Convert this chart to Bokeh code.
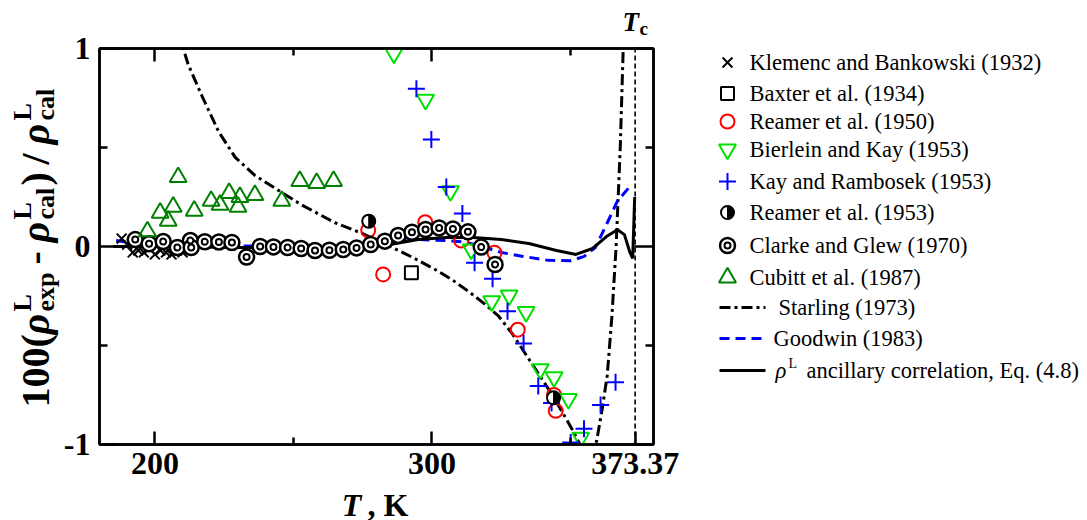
import numpy as np
from bokeh.plotting import figure
from bokeh.models import Range1d, FixedTicker, LinearAxis
from bokeh.layouts import row, column
from bokeh.embed import file_html
from bokeh.resources import INLINE
from bokeh.core.properties import value

# ---------------- data (T in K, 100*(rho_exp - rho_cal)/rho_cal) ----------------
klemenc_T = [188, 190, 192, 194, 196, 198, 200, 202, 204, 206, 208, 210]
klemenc_d = [0.04, 0.01, -0.03, -0.02, -0.03, -0.01, -0.04, -0.02, -0.03, -0.04, -0.02, -0.03]

baxter_T = [292.6]
baxter_d = [-0.133]

reamer50_T = [277.0, 282.4, 297.6, 310.6, 322.6, 331.0, 344.1, 344.7]
reamer50_d = [0.082, -0.141, 0.123, 0.030, -0.032, -0.42, -0.75, -0.83]

bierlein_T = [286.3, 297.7, 306.7, 314.2, 321.6, 327.9, 334.0, 339.1, 344.1, 349.3, 353.7]
bierlein_d = [0.975, 0.742, 0.28, -0.015, -0.276, -0.247, -0.33, -0.62, -0.66, -0.77, -0.966]

kay_T = [294.4, 299.8, 305.2, 311.0, 315.4, 321.9, 327.3, 333.1, 338.4, 343.2, 350.1, 354.9, 360.9, 366.3]
kay_d = [0.797, 0.54, 0.30, 0.167, -0.082, -0.163, -0.327, -0.49, -0.705, -0.79, -0.99, -0.92, -0.80, -0.685]

reamer53_T = [277.2, 343.9]
reamer53_d = [0.128, -0.764]

clarke_T = [192.9, 197.9, 203.0, 208.1, 212.8, 213.1, 218.0, 223.1, 227.8, 233.1, 238.0, 242.8,
            247.9, 252.8, 257.8, 263.0, 268.0, 272.8, 277.9, 283.0, 287.8, 292.8, 297.7, 302.6,
            307.6, 313.0, 317.8, 322.8]
clarke_d = [0.035, 0.014, 0.025, -0.005, 0.03, -0.005, 0.024, 0.023, 0.02, -0.053, 0.0, -0.002,
            -0.005, -0.010, -0.020, -0.019, -0.015, -0.007, 0.010, 0.027, 0.056, 0.072, 0.086, 0.094,
            0.089, 0.074, -0.003, -0.091]

cubitt_T = [197.3, 201.9, 204.8, 206.6, 208.4, 214.2, 220.3, 223.5, 226.8, 230.0, 230.7, 236.1,
            245.8, 252.3, 258.4, 264.5]
cubitt_d = [0.076, 0.17, 0.13, 0.20, 0.35, 0.18, 0.23, 0.21, 0.27, 0.20, 0.25, 0.26,
            0.23, 0.33, 0.32, 0.33]

starling_T = [208.5, 212, 217, 223, 229, 236, 245, 253, 265, 275, 285, 293, 301, 307, 314, 319,
              324, 329, 336, 343.5, 350.5, 353.5, 356, 358, 359.5, 361.5, 363.3, 365, 366.5, 368, 369.5]
starling_d = [1.08, 0.92, 0.76, 0.58, 0.45, 0.36, 0.28, 0.21, 0.12, 0.065, 0.0, -0.055, -0.115,
              -0.165, -0.235, -0.29, -0.35, -0.44, -0.59, -0.75, -0.92, -1.0, -1.06, -1.05, -0.98,
              -0.82, -0.65, -0.35, 0.0, 0.5, 1.2]

goodwin_T = [186, 200, 220, 250, 270, 285, 295, 305, 312, 318, 325, 333, 342, 350, 355, 359, 363, 367, 371.3]
goodwin_d = [0.03, 0.0, 0.0, 0.005, 0.01, 0.02, 0.035, 0.03, 0.022, 0.0, -0.03, -0.05, -0.07,
             -0.072, -0.05, -0.005, 0.11, 0.23, 0.3]

ancillary_T = [185, 200, 230, 260, 275, 285, 295, 305, 315, 325, 335, 345, 352, 358, 363, 367,
               369.5, 371.5, 372.5, 373.2]
ancillary_d = [0.0, 0.0, -0.005, -0.01, -0.005, 0.01, 0.035, 0.045, 0.045, 0.035, 0.015, -0.02,
               -0.04, -0.01, 0.05, 0.085, 0.06, -0.03, -0.06, 0.25]

Tc = 373.37
x_major = [200, 300, Tc]
x_labels = {200: "200", 300: "300", Tc: "373.37"}
x_minor = [250, 350]
y_major = [-1, 0, 1]
y_labels = {-1: "-1", 0: "0", 1: "1"}
y_minor = [-0.5, 0.5]

legend_labels = ["Klemenc and Bankowski (1932)", "Baxter et al. (1934)", "Reamer et al. (1950)",
                 "Bierlein and Kay (1953)", "Kay and Rambosek (1953)", "Reamer et al. (1953)",
                 "Clarke and Glew (1970)", "Cubitt et al. (1987)", "Starling (1973)",
                 "Goodwin (1983)", "ancillary correlation, Eq. (4.8)"]

SERIF = "Liberation Serif"
LIME = "#00e000"
DKGREEN = "#008000"
BLUE = "#0000ff"

# ---------------- page geometry ----------------
PW, PH = 1087, 520
LEFT_W = 60           # strip holding the y title
MID_W = 620           # main plot column
TOP_H = 35            # strip holding the T_c mark
MAIN_H = 455          # main figure height
BOT_H = PH - TOP_H - MAIN_H   # strip holding the x title
FL, FR, FT, FB = 97, 653, 48, 444   # frame edges in page pixels
XMIN, XMAX, YMIN, YMAX = 180, 380, -1, 1


def strip(x0, x1, oy, w, h):
    """A bare figure whose data coordinates are page pixels (x) and -page pixels (y).
    x0..x1 is the page span of its frame (frames in a column are aligned)."""
    f = figure(width=w, height=h, x_range=Range1d(x0, x1), y_range=Range1d(-(oy + h), -oy),
               output_backend="svg", toolbar_location=None, min_border=0,
               x_axis_location=None, y_axis_location=None)
    f.grid.visible = False
    f.outline_line_color = None
    f.background_fill_color = "white"
    f.border_fill_color = "white"
    return f


# ---------------- main figure ----------------
p = figure(width=MID_W, height=MAIN_H, x_range=Range1d(XMIN, XMAX), y_range=Range1d(YMIN, YMAX),
           output_backend="svg", toolbar_location=None,
           min_border_left=FL - LEFT_W, min_border_right=LEFT_W + MID_W - FR,
           min_border_top=FT - TOP_H, min_border_bottom=TOP_H + MAIN_H - FB)
p.grid.visible = False
p.background_fill_color = "white"
p.border_fill_color = "white"
p.outline_line_color = "black"
p.outline_line_width = 2.5


def style_axis(ax, major, minor, tin, mtin, labels=None):
    ax.ticker = FixedTicker(ticks=major, minor_ticks=minor)
    ax.axis_line_color = "black"
    ax.axis_line_width = 2.5
    ax.major_tick_in = tin
    ax.major_tick_out = 0
    ax.minor_tick_in = mtin
    ax.minor_tick_out = 0
    ax.major_tick_line_width = 2.5
    ax.minor_tick_line_width = 2.5
    ax.major_tick_line_color = "black"
    ax.minor_tick_line_color = "black"
    ax.major_label_text_font = SERIF
    ax.major_label_text_font_style = "bold"
    ax.major_label_text_color = "black"
    if labels is None:
        ax.major_label_text_font_size = "0px"
        ax.major_label_standoff = 0
        ax.major_label_overrides = {t: "" for t in major}
    else:
        ax.major_label_text_font_size = "32px"
        ax.major_label_overrides = labels


style_axis(p.xaxis[0], x_major, x_minor, 13, 7, labels=x_labels)
p.xaxis[0].major_label_standoff = 8
style_axis(p.yaxis[0], y_major, y_minor, 19, 8, labels=y_labels)
p.yaxis[0].major_label_standoff = 9
ax_top = LinearAxis()
style_axis(ax_top, [200, 300], x_minor, 13, 7)
p.add_layout(ax_top, "above")
ax_right = LinearAxis()
style_axis(ax_right, y_major, y_minor, 19, 8)
p.add_layout(ax_right, "right")

# curves
p.line(starling_T, starling_d, line_color="black", line_width=3, line_dash="11 4 3 4")
p.line(goodwin_T, goodwin_d, line_color=BLUE, line_width=3, line_dash="10 6")
p.line(ancillary_T, ancillary_d, line_color="black", line_width=3)
p.line([Tc, Tc], [YMIN, YMAX], line_color="black", line_width=1.6, line_dash="5 3")

# experimental points
p.scatter(klemenc_T, klemenc_d, marker="x", size=14, line_color="black", line_width=2)
p.scatter(baxter_T, baxter_d, marker="square", size=13, line_color="black", line_width=2, fill_color=None)
p.scatter(reamer50_T, reamer50_d, marker="circle", size=14, line_color="red", line_width=2, fill_color=None)
p.scatter(bierlein_T, bierlein_d, marker="inverted_triangle", size=17, line_color=LIME, line_width=2, fill_color=None)
p.scatter(kay_T, kay_d, marker="cross", size=17, line_color=BLUE, line_width=2)
p.scatter(reamer53_T, reamer53_d, marker="circle", size=13, line_color="black", line_width=2, fill_color="white")
p.wedge(reamer53_T, reamer53_d, radius=6.5, radius_units="screen", start_angle=-np.pi / 2,
        end_angle=np.pi / 2, fill_color="black", line_color="black")
p.scatter(clarke_T, clarke_d, marker="circle", size=15, line_color="black", line_width=2.5, fill_color="white")
p.scatter(clarke_T, clarke_d, marker="circle", size=6, line_color="black", line_width=2, fill_color="white")
p.scatter(cubitt_T, cubitt_d, marker="triangle", size=17, line_color=DKGREEN, line_width=2, fill_color=None)


def put(f, x, y, text, size, style="bold", angle=0.0, align="left"):
    f.text([x], [-y], text=[text], text_font=value(SERIF), text_font_style=style,
           text_font_size=f"{size}px", text_align=align, text_baseline="middle",
           text_color="black", angle=angle)


# ---------------- top strip: T_c ----------------
c_top = strip(FL, FR, 0, MID_W, TOP_H)
put(c_top, 622, 21, "T", 27, style="bold italic")
put(c_top, 639, 27.5, "c", 19)

# ---------------- bottom strip: x title ----------------
c_bot = strip(FL, FR, TOP_H + MAIN_H, MID_W, BOT_H)
put(c_bot, 340, 504, "T", 32, style="bold italic")
put(c_bot, 366, 504, ", K", 32)

# ---------------- left strip: y title (reads bottom to top) ----------------
a = strip(0, LEFT_W, 0, LEFT_W, PH)
A = np.pi / 2
BASE, SUP, SUB = 34.5, 22, 44.5     # x of the text middles
F, S = 40, 26
put(a, BASE, 407, "100(", F, angle=A)
put(a, BASE, 334, "\u03c1", F, style="bold italic", angle=A)
put(a, SUP, 311, "L", S, angle=A)
put(a, SUB, 311, "exp", S, angle=A)
put(a, BASE, 264, "-", F, angle=A)
put(a, BASE, 242, "\u03c1", F, style="bold italic", angle=A)
put(a, SUP, 219, "L", S, angle=A)
put(a, SUB, 219, "cal", S, angle=A)
put(a, BASE, 185, ")", F, angle=A)
put(a, BASE, 164, "/", F, angle=A)
put(a, BASE, 144, "\u03c1", F, style="bold italic", angle=A)
put(a, SUP, 120, "L", S, angle=A)
put(a, SUB, 120, "cal", S, angle=A)

# ---------------- legend strip ----------------
q = strip(LEFT_W + MID_W, PW, 0, PW - LEFT_W - MID_W, PH)
ly = [62, 93, 121, 149, 181, 212, 245, 277, 307, 338, 370]
ny = [-v for v in ly]
mx = 727
q.scatter([mx], [ny[0]], marker="x", size=14, line_color="black", line_width=2)
q.scatter([mx], [ny[1]], marker="square", size=13, line_color="black", line_width=2, fill_color=None)
q.scatter([mx], [ny[2]], marker="circle", size=14, line_color="red", line_width=2, fill_color=None)
q.scatter([mx], [ny[3]], marker="inverted_triangle", size=17, line_color=LIME, line_width=2, fill_color=None)
q.scatter([mx], [ny[4]], marker="cross", size=17, line_color=BLUE, line_width=2)
q.scatter([mx], [ny[5]], marker="circle", size=13, line_color="black", line_width=2, fill_color="white")
q.wedge([mx], [ny[5]], radius=6.5, radius_units="screen", start_angle=-np.pi / 2, end_angle=np.pi / 2,
        fill_color="black", line_color="black")
q.scatter([mx], [ny[6]], marker="circle", size=15, line_color="black", line_width=2.5, fill_color="white")
q.scatter([mx], [ny[6]], marker="circle", size=6, line_color="black", line_width=2, fill_color="white")
q.scatter([mx], [ny[7]], marker="triangle", size=17, line_color=DKGREEN, line_width=2, fill_color=None)
q.line([719, 765], [ny[8], ny[8]], line_color="black", line_width=3, line_dash="11 4 3 4")
q.line([719, 765], [ny[9], ny[9]], line_color=BLUE, line_width=3, line_dash="10 6")
q.line([719, 765], [ny[10], ny[10]], line_color="black", line_width=3)

txt_x = [749] * 8 + [778, 773, 806]
q.text(txt_x, ny, text=legend_labels, text_font=value(SERIF), text_font_size="22.5px",
       text_baseline="middle", text_align="left", text_color="black")
put(q, 775, ly[10], "\u03c1", 22.5, style="italic")
put(q, 788, ly[10] - 7, "L", 14, style="normal")

layout = row(a, column(c_top, p, c_bot), q)
open("out.html", "w").write(file_html(layout, INLINE))
